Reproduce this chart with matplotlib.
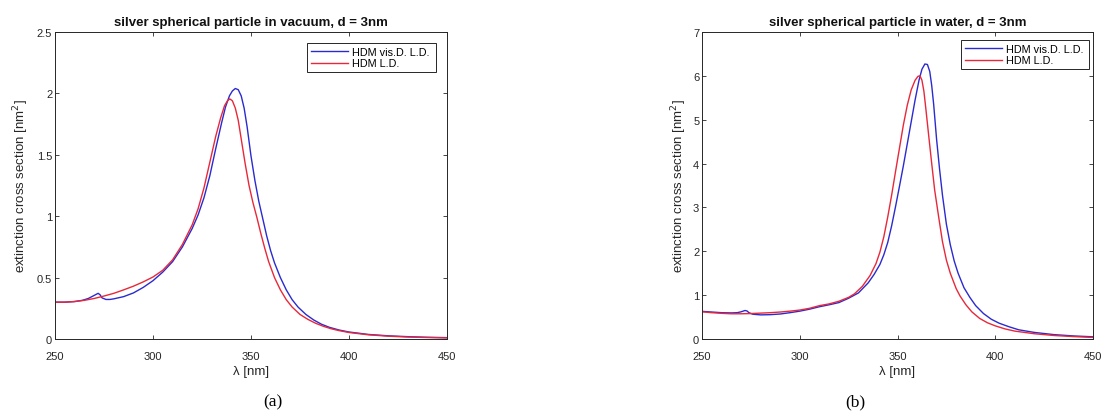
import matplotlib

matplotlib.use("Agg")
import matplotlib.pyplot as plt

plt.rcParams["font.family"] = ["Liberation Sans", "DejaVu Sans"]

# vacuum, d = 3nm
vac_blue_x = [250, 255, 260, 264, 267, 270, 272, 273, 274, 276, 278, 280, 285, 290, 295, 300, 305, 310,
              315, 320, 323, 326, 329, 332, 335, 337, 339, 340.5, 342, 343.5, 345, 346.5, 348, 350, 352,
              354, 356, 358, 360, 362, 365, 368, 371, 374, 378, 382, 386, 390, 395, 400, 410, 420, 430,
              440, 450]
vac_blue_y = [0.300, 0.300, 0.305, 0.315, 0.33, 0.355, 0.372, 0.36, 0.335, 0.322, 0.322, 0.327, 0.345, 0.375, 0.42, 0.475, 0.545, 0.63,
              0.75, 0.90, 1.01, 1.15, 1.33, 1.55, 1.76, 1.89, 1.98, 2.02, 2.04, 2.03, 1.98, 1.88, 1.73, 1.49, 1.29,
              1.12, 0.98, 0.84, 0.72, 0.62, 0.50, 0.40, 0.32, 0.26, 0.20, 0.155, 0.12, 0.095, 0.073, 0.057, 0.037, 0.026, 0.019,
              0.014, 0.011]
vac_red_x = [250, 255, 260, 265, 270, 275, 280, 285, 290, 295, 300, 305, 310, 315, 320, 323, 326, 329,
             332, 334.5, 336.5, 338, 339.2, 340.5, 342, 343.5, 345, 347, 349, 351, 353, 355, 357, 359, 362,
             365, 368, 371, 375, 379, 383, 387, 391, 395, 400, 410, 420, 430, 440, 450]
vac_red_y = [0.300, 0.300, 0.305, 0.315, 0.33, 0.35, 0.372, 0.40, 0.43, 0.465, 0.505, 0.56, 0.645, 0.77, 0.93, 1.06, 1.23, 1.44,
             1.65, 1.80, 1.90, 1.94, 1.955, 1.94, 1.88, 1.78, 1.63, 1.43, 1.25, 1.11, 0.99, 0.86, 0.74, 0.63, 0.50,
             0.40, 0.32, 0.26, 0.20, 0.16, 0.128, 0.103, 0.083, 0.068, 0.053, 0.034, 0.023, 0.016, 0.012, 0.009]

# water, d = 3nm
wat_blue_x = [250, 255, 260, 265, 268, 270, 272, 273, 274, 276, 280, 285, 290, 295, 300, 305, 310, 315,
              320, 325, 330, 335, 338, 341, 343, 345, 347, 349, 351, 353, 355, 357, 359, 361, 362.5, 364,
              365.3, 366.5, 367.5, 368.5, 370, 371.5, 373, 375, 377, 379, 381, 384, 387, 390, 394, 398,
              402, 407, 412, 420, 430, 440, 450]
wat_blue_y = [0.63, 0.615, 0.60, 0.595, 0.60, 0.62, 0.65, 0.64, 0.60, 0.565, 0.55, 0.555, 0.57, 0.60, 0.635, 0.68, 0.735, 0.78,
              0.83, 0.93, 1.05, 1.28, 1.47, 1.70, 1.92, 2.20, 2.58, 3.02, 3.48, 3.95, 4.45, 4.95, 5.45, 5.90, 6.15, 6.27,
              6.26, 6.10, 5.78, 5.35, 4.55, 3.88, 3.28, 2.62, 2.15, 1.78, 1.50, 1.17, 0.95, 0.76, 0.58, 0.45,
              0.36, 0.28, 0.21, 0.15, 0.10, 0.07, 0.05]
wat_red_x = [250, 255, 260, 265, 270, 275, 280, 285, 290, 295, 300, 305, 310, 315, 320, 325, 328, 332,
             336, 339, 341, 343, 345, 347, 349, 351, 353, 355, 357, 359, 360.5, 361.5, 362.5, 363.5, 364.5,
             366, 367.5, 369, 371, 373, 375, 377, 380, 382, 385, 388, 392, 396, 400, 405, 410, 420, 430,
             440, 450]
wat_red_y = [0.62, 0.60, 0.585, 0.575, 0.575, 0.58, 0.59, 0.60, 0.615, 0.635, 0.66, 0.70, 0.76, 0.80, 0.86, 0.95, 1.03, 1.20,
             1.45, 1.72, 1.98, 2.33, 2.78, 3.28, 3.82, 4.35, 4.88, 5.33, 5.68, 5.90, 5.99, 6.00, 5.90, 5.65, 5.25,
             4.62, 4.00, 3.40, 2.80, 2.22, 1.80, 1.50, 1.15, 0.98, 0.78, 0.62, 0.47, 0.37, 0.30, 0.23, 0.18, 0.12, 0.08,
             0.055, 0.035]

titles = ["silver spherical particle in vacuum, d = 3nm", "silver spherical particle in water, d = 3nm"]
panel_labels = ["(a)", "(b)"]
legend_labels = ["HDM vis.D. L.D.", "HDM L.D."]
y_ticks = [[0, 0.5, 1, 1.5, 2, 2.5], [0, 1, 2, 3, 4, 5, 6, 7]]
y_tick_labels = [["0", "0.5", "1", "1.5", "2", "2.5"], ["0", "1", "2", "3", "4", "5", "6", "7"]]
x_ticks = [250, 300, 350, 400, 450]

W, H = 1102, 414
fig = plt.figure(figsize=(W / 100, H / 100), dpi=100)

axes_px = [(55, 33, 447, 340), (702, 33, 1093, 340)]
legend_px = [(307, 44, 436, 78), (961, 41, 1089, 74)]
ylabel_x = [21, 679]
label_x = [273, 855]
series = [
    (vac_blue_x, vac_blue_y, vac_red_x, vac_red_y),
    (wat_blue_x, wat_blue_y, wat_red_x, wat_red_y),
]

blue = "#2a2ad0"
red = "#e8283a"
ink = "#262626"

for i, (x0, y0, x1, y1) in enumerate(axes_px):
    w, h = x1 - x0, y1 - y0
    ax = fig.add_axes([x0 / W, 1 - y1 / H, w / W, h / H])
    bx, by, rx, ry = series[i]
    ax.plot(bx, by, color=blue, lw=1.0, label=legend_labels[0])
    ax.plot(rx, ry, color=red, lw=1.0, label=legend_labels[1])
    ax.set_xlim(250, 450)
    ax.set_ylim(y_ticks[i][0], y_ticks[i][-1])
    ax.set_xticks(x_ticks)
    ax.set_xticklabels([str(t) for t in x_ticks])
    ax.set_yticks(y_ticks[i])
    ax.set_yticklabels(y_tick_labels[i])
    ax.tick_params(direction="in", top=True, right=True, length=3, width=0.6,
                   labelsize=8, colors=ink, labelcolor=ink)
    ax.tick_params(axis="x", pad=9)
    ax.tick_params(axis="y", pad=2)
    for sp in ax.spines.values():
        sp.set_color(ink)
        sp.set_linewidth(0.7)
    ax.set_title(titles[i], fontsize=9.5, fontweight="bold", color="#111111", pad=5)
    ax.set_xlabel("λ [nm]", fontsize=9.5, color=ink)
    ax.xaxis.set_label_coords(0.5, -(366 - y1) / h)
    ax.set_ylabel(r"extinction cross section [nm$^2$]", fontsize=9.5, color=ink)
    ax.yaxis.set_label_coords((ylabel_x[i] - x0) / w, 0.5)
    ax.yaxis.label.set_verticalalignment("center")

    lx0, ly0, lx1, ly1 = legend_px[i]
    bbox = ((lx0 - x0) / w, 1 - (ly1 - y0) / h, (lx1 - lx0) / w, (ly1 - ly0) / h)
    leg = ax.legend(loc="upper left", fontsize=7.8, frameon=True, fancybox=False,
                    bbox_to_anchor=bbox, mode="expand", borderaxespad=0, handlelength=3.4,
                    handletextpad=0.4, labelspacing=0.15, borderpad=0.35, framealpha=1)
    leg.get_frame().set_edgecolor(ink)
    leg.get_frame().set_linewidth(0.7)

    fig.text(label_x[i] / W, 1 - 402 / H, panel_labels[i], ha="center", va="center",
             fontsize=12.5, family=["Liberation Serif", "DejaVu Serif"], color="black")

fig.savefig("out.png", dpi=100)
